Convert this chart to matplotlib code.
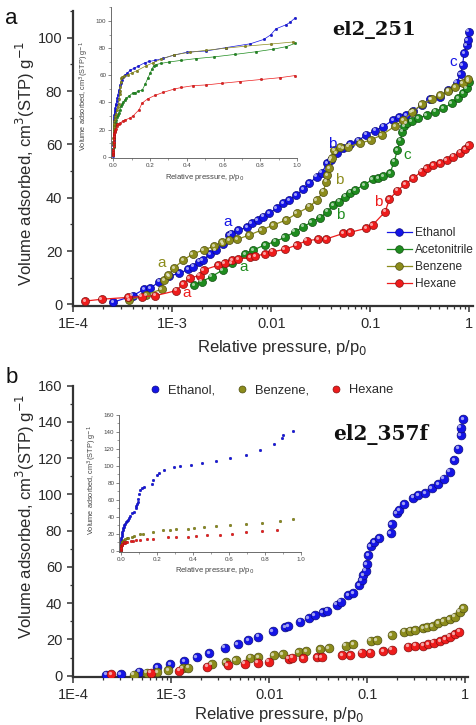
import numpy as np
import matplotlib
matplotlib.use("Agg")
import matplotlib.pyplot as plt
from matplotlib.lines import Line2D
from matplotlib.transforms import offset_copy
from matplotlib.ticker import FixedLocator, MultipleLocator, NullFormatter
import matplotlib.colors as mcolors

plt.rcParams['font.family'] = ['Liberation Sans', 'DejaVu Sans']

# ---------------- data: panel a (el2_251) ----------------
eth_a_p = [2.54e-4, 3.98e-4, 5.18e-4, 5.96e-4, 7.4e-4, 9.3e-4, 1.17e-3, 1.45e-3, 1.63e-3, 1.87e-3,
           2.03e-3, 2.40e-3, 2.74e-3, 3.27e-3, 3.77e-3, 3.92e-3, 4.64e-3, 5.73e-3, 6.34e-3, 7.29e-3,
           8.3e-3, 9.48e-3, 1.135e-2, 1.32e-2, 1.52e-2, 1.78e-2, 2.11e-2, 2.42e-2, 2.88e-2, 3.23e-2,
           3.68e-2, 3.98e-2, 4.58e-2, 5.34e-2, 6.24e-2, 7.57e-2, 9.06e-2, 0.112, 0.134, 0.171,
           0.196, 0.229, 0.272, 0.330, 0.401, 0.506, 0.614, 0.746, 0.819, 0.857, 0.885, 0.942, 0.964, 0.99]
eth_a_v = [0.8, 3.2, 5.6, 6.0, 8.5, 10.6, 11.6, 13.1, 14.1, 16.0,
           16.6, 18.8, 20.4, 22.6, 26.0, 26.5, 27.9, 28.9, 30.4, 31.6,
           32.9, 34.1, 36.0, 37.9, 39.1, 41.0, 43.2, 45.4, 47.9, 49.4,
           52.9, 54.1, 56.7, 58.5, 60.2, 61.4, 63.6, 65.1, 66.6, 69.2,
           70.2, 71.0, 72.5, 74.8, 77.0, 77.9, 80.4, 83.2, 86.4, 89.8, 94.2, 97.3, 99.2, 102.3]

acn_a_p = [1.67e-3, 1.98e-3, 2.50e-3, 3.23e-3, 3.98e-3, 5.43e-3, 6.58e-3, 8.64e-3, 1.09e-2, 1.37e-2,
           1.73e-2, 2.11e-2, 2.56e-2, 3.10e-2, 3.68e-2, 4.23e-2, 4.83e-2, 5.55e-2, 6.24e-2, 7.0e-2,
           8.63e-2, 0.106, 0.120, 0.135, 0.158, 0.174, 0.188, 0.200, 0.211, 0.219,
           0.233, 0.262, 0.305, 0.371, 0.451, 0.546, 0.664, 0.775, 0.870, 0.942, 0.99]
acn_a_v = [7.2, 8.5, 10.4, 12.9, 15.4, 18.9, 20.4, 22.3, 23.5, 25.1,
           27.2, 29.1, 30.9, 32.5, 34.7, 37.3, 38.5, 40.4, 41.9, 42.9,
           44.8, 46.9, 47.3, 48.1, 49.2, 53.5, 57.9, 61.4, 64.8, 66.9,
           67.9, 68.8, 69.8, 71.0, 72.3, 73.5, 75.4, 77.3, 79.2, 81.1, 83.5]

bz_a_p = [3.68e-4, 5.42e-4, 7.82e-4, 8.25e-4, 9.12e-4, 1.04e-3, 1.29e-3, 1.61e-3, 2.07e-3, 2.64e-3,
          3.18e-3, 3.77e-3, 4.54e-3, 6.0e-3, 8.0e-3, 1.05e-2, 1.41e-2, 1.81e-2, 2.42e-2, 2.88e-2,
          3.35e-2, 3.57e-2, 3.68e-2, 3.86e-2, 4.08e-2, 4.30e-2, 4.94e-2, 6.0e-2, 7.87e-2, 0.101,
          0.130, 0.178, 0.216, 0.262, 0.330, 0.417, 0.506, 0.614, 0.718, 0.857, 0.977]
bz_a_v = [1.6, 3.5, 5.7, 9.1, 11.0, 13.6, 16.6, 18.9, 20.4, 21.8,
          23.3, 24.1, 24.4, 26.0, 27.9, 29.8, 31.6, 34.1, 36.6, 39.1,
          42.3, 46.0, 48.5, 51.0, 54.8, 57.9, 58.9, 59.1, 60.4, 61.7,
          63.5, 66.9, 69.2, 72.0, 75.0, 77.0, 78.4, 80.0, 81.4, 83.0, 84.5]

hex_a_p = [1.31e-4, 1.94e-4, 3.6e-4, 4.91e-4, 6.68e-4, 1.09e-3, 1.28e-3, 1.50e-3, 1.89e-3, 2.08e-3,
           2.92e-3, 3.37e-3, 4.03e-3, 4.64e-3, 6.1e-3, 6.85e-3, 8.63e-3, 1.02e-2, 1.37e-2, 1.81e-2,
           2.28e-2, 2.99e-2, 3.57e-2, 5.34e-2, 6.24e-2, 9.06e-2, 0.106, 0.141, 0.156, 0.188,
           0.226, 0.272, 0.330, 0.371, 0.433, 0.506, 0.591, 0.689, 0.805, 0.906, 0.99]
hex_a_v = [1.2, 1.9, 2.6, 2.9, 3.2, 5.1, 7.6, 9.9, 10.8, 12.9,
           14.7, 15.5, 16.6, 17.0, 17.6, 18.1, 18.9, 19.7, 20.6, 22.3,
           23.9, 24.4, 24.5, 26.6, 27.0, 28.5, 29.8, 34.7, 39.4, 42.7,
           45.1, 47.4, 49.8, 51.0, 52.3, 52.9, 54.1, 55.4, 56.9, 58.2, 59.8]

# ---------------- data: panel b (el2_357f) ----------------
eth_b_p = [2.16e-4, 3.05e-4, 4.71e-4, 7.19e-4, 9.7e-4, 1.35e-3, 1.82e-3, 2.43e-3, 3.53e-3, 4.74e-3,
           6.11e-3, 7.73e-3, 1.09e-2, 1.45e-2, 1.56e-2, 2.06e-2, 2.54e-2, 2.92e-2, 3.53e-2, 3.91e-2,
           4.87e-2, 5.39e-2, 6.4e-2, 7.2e-2, 8.28e-2, 8.77e-2, 9.1e-2, 9.64e-2, 9.87e-2, 0.102,
           0.108, 0.118, 0.132, 0.173, 0.177, 0.200, 0.212, 0.239, 0.295, 0.331,
           0.388, 0.454, 0.530, 0.606, 0.698, 0.773, 0.849, 0.898, 0.904, 0.955]
eth_b_v = [0.4, 0.8, 2.2, 4.6, 6.3, 8.1, 10.3, 12.5, 15.3, 17.3,
           19.7, 21.5, 24.4, 26.7, 27.4, 29.8, 31.6, 33.4, 35.1, 35.8,
           39.1, 40.9, 44.5, 45.4, 50.0, 52.7, 55.5, 57.9, 61.5, 66.5,
           71.5, 73.6, 75.7, 78.5, 83.6, 89.5, 91.3, 94.6, 98.3, 99.6,
           100.8, 103.3, 105.5, 108.8, 112.4, 118.8, 125.3, 132.6, 136.9, 141.4]

bz_b_p = [4.16e-4, 5.61e-4, 7.19e-4, 9.31e-4, 1.31e-3, 1.49e-3, 2.58e-3, 3.59e-3, 4.57e-3, 6.43e-3,
          7.67e-3, 1.11e-2, 1.37e-2, 2.0e-2, 2.39e-2, 3.32e-2, 4.05e-2, 6.0e-2, 7.2e-2, 0.108,
          0.125, 0.177, 0.237, 0.273, 0.307, 0.373, 0.409, 0.464, 0.530, 0.606,
          0.698, 0.785, 0.883, 0.955]
bz_b_v = [0.4, 1.7, 1.9, 3.1, 4.1, 4.5, 6.3, 7.3, 8.4, 9.9,
          10.3, 11.4, 11.8, 12.9, 13.6, 14.6, 15.1, 16.6, 17.3, 19.3,
          19.7, 22.4, 24.2, 24.8, 25.2, 26.1, 26.7, 27.4, 28.9, 30.1,
          31.2, 32.5, 35.3, 37.1]

hex_b_p = [2.43e-4, 6.17e-4, 1.21e-3, 2.34e-3, 3.77e-3, 5.59e-3, 7.64e-3, 9.89e-3, 1.58e-2, 1.72e-2,
           2.22e-2, 3.07e-2, 3.43e-2, 5.52e-2, 6.67e-2, 8.77e-2, 0.107, 0.146, 0.177, 0.262,
           0.307, 0.373, 0.419, 0.479, 0.552, 0.621, 0.698, 0.785, 0.869]
hex_b_v = [0.8, 1.7, 2.8, 5.0, 5.7, 6.6, 7.2, 7.7, 9.4, 9.8,
           9.6, 10.2, 10.3, 11.4, 11.4, 12.7, 12.7, 13.6, 14.2, 16.0,
           16.4, 16.4, 17.3, 18.2, 19.1, 20.1, 21.5, 22.8, 24.2]

log_ticks = [1e-4, 1e-3, 1e-2, 1e-1, 1]
log_labels = ["1E-4", "1E-3", "0.01", "0.1", "1"]

C_ETH = "#1414e6"
C_ACN = "#1e8c1e"
C_BZ = "#8c8c1c"
C_HEX = "#ee1c1c"
TXT = "#2a2a2a"

W, H = 477, 725
fig = plt.figure(figsize=(W / 100, H / 100), dpi=100)


def px_axes(x0, y0, x1, y1):
    return fig.add_axes([x0 / W, 1 - y1 / H, (x1 - x0) / W, (y1 - y0) / H])


def darker(c, f=0.55):
    r, g, b = mcolors.to_rgb(c)
    return (r * f, g * f, b * f)


def balls(ax, x, y, color, ms, line=False, lw=0.9, hl=True):
    ax.plot(x, y, ls='-' if line else 'none', lw=lw, color=color, alpha=1,
            marker='o', ms=ms, mfc=color, mec=darker(color), mew=0.5, zorder=3)
    if hl:
        tr = offset_copy(ax.transData, fig=fig, x=-ms * 0.17, y=ms * 0.17, units='points')
        ax.plot(x, y, ls='none', marker='o', ms=ms * 0.38, mfc='white', mec='none',
                alpha=0.6, transform=tr, zorder=4)


def style_main(ax, xr, ytop, ybot, ymaj):
    ax.set_xscale('log')
    ax.set_xlim(1e-4, xr)
    ax.set_ylim(ybot, ytop)
    ax.xaxis.set_major_locator(FixedLocator(log_ticks))
    ax.set_xticklabels(log_labels)
    minors = [m * 10.0 ** e for e in range(-4, 0) for m in range(2, 10)]
    ax.xaxis.set_minor_locator(FixedLocator(minors))
    ax.xaxis.set_minor_formatter(NullFormatter())
    ax.yaxis.set_major_locator(MultipleLocator(ymaj))
    ax.yaxis.set_minor_locator(MultipleLocator(ymaj / 2))
    for s in ['top', 'right']:
        ax.spines[s].set_visible(False)
    for s in ['left', 'bottom']:
        ax.spines[s].set_linewidth(1.6)
        ax.spines[s].set_color('#333333')
    ax.tick_params(which='major', direction='out', length=4.5, width=1.1, labelsize=10.5,
                   colors='#333333', labelcolor=TXT)
    ax.tick_params(which='minor', direction='out', length=2.5, width=0.9, colors='#333333')
    ax.patch.set_alpha(0)


def style_inset(ax, xl, yl, ymaj):
    ax.set_xlim(*xl)
    ax.set_ylim(*yl)
    ax.xaxis.set_major_locator(MultipleLocator(0.2))
    ax.xaxis.set_minor_locator(MultipleLocator(0.1))
    ax.yaxis.set_major_locator(MultipleLocator(ymaj))
    ax.yaxis.set_minor_locator(MultipleLocator(ymaj / 2))
    ax.xaxis.set_major_formatter(matplotlib.ticker.FormatStrFormatter('%.1f'))
    for s in ['top', 'right']:
        ax.spines[s].set_visible(False)
    for s in ['left', 'bottom']:
        ax.spines[s].set_linewidth(0.6)
        ax.spines[s].set_color('#555555')
    ax.tick_params(which='major', direction='out', length=2, width=0.5, labelsize=4.5,
                   pad=1.5, colors='#555555', labelcolor='#444444')
    ax.tick_params(which='minor', direction='out', length=1.2, width=0.4, colors='#555555')
    ax.patch.set_alpha(0)


YLAB = "Volume adsorbed, cm$^3$(STP) g$^{-1}$"
XLAB = "Relative pressure, p/p$_0$"

# ======================= panel a =======================
axa = px_axes(73.3, 11.2, 473, 306)
style_main(axa, 1.09, 110, -0.64, 20)
for p, v, c in [(eth_a_p, eth_a_v, C_ETH), (acn_a_p, acn_a_v, C_ACN),
                (bz_a_p, bz_a_v, C_BZ), (hex_a_p, hex_a_v, C_HEX)]:
    balls(axa, p, v, c, 5.8, line=True, lw=0.9)
axa.set_xlabel(XLAB, fontsize=12, color=TXT)
axa.set_ylabel(YLAB, fontsize=12, color=TXT)
axa.xaxis.set_label_coords(0.522, -0.108)
axa.yaxis.set_label_coords(-0.091, 0.485)

# step labels
annot_a = [(3.63e-3, 31.0, 'a', C_ETH), (0.041, 60.2, 'b', C_ETH), (0.684, 90.9, 'c', C_ETH),
           (7.87e-4, 15.5, 'a', C_BZ), (0.0483, 46.6, 'b', C_BZ),
           (5.3e-3, 14.0, 'a', C_ACN), (0.0494, 33.5, 'b', C_ACN), (0.234, 56.0, 'c', C_ACN),
           (1.41e-3, 4.2, 'a', C_HEX), (0.12, 38.4, 'b', C_HEX)]
for x, y, t, c in annot_a:
    axa.text(x, y, t, color=c, fontsize=11, ha='center', va='center', zorder=6)

leg_a = [Line2D([], [], color=c, lw=0.9, marker='o', ms=5.5, mfc=c, mec=darker(c), mew=0.5)
         for c in [C_ETH, C_ACN, C_BZ, C_HEX]]
axa.legend(leg_a, ["Ethanol", "Acetonitrile", "Benzene", "Hexane"], loc='lower right',
           bbox_to_anchor=(1.02, 0.03), frameon=False, fontsize=8.6, handlelength=2.1,
           handletextpad=0.25, labelspacing=0.42, labelcolor=TXT, borderaxespad=0.2)

axa.text(0.752, 0.935, "el2_251", transform=axa.transAxes, fontsize=14, fontweight='bold',
         family='DejaVu Serif', ha='center', va='center', color='#111111')

fig.text(11 / W, 1 - 18 / H, "a", fontsize=16, ha='center', va='center', color='#111111')

# inset a
ina = px_axes(111, 7, 297, 158)
style_inset(ina, (-0.0125, 1.0), (-0.96, 110.3), 20)
for p, v, c in [(eth_a_p, eth_a_v, C_ETH), (acn_a_p, acn_a_v, C_ACN),
                (bz_a_p, bz_a_v, C_BZ), (hex_a_p, hex_a_v, C_HEX)]:
    ina.plot(p, v, color=c, lw=0.5, marker='o', ms=1.9, mfc=c, mec=darker(c), mew=0.2,
             clip_on=False)
ina.set_xlabel(XLAB, fontsize=5.5, color='#444444')
ina.set_ylabel(YLAB, fontsize=5.3, color='#444444')
ina.xaxis.set_label_coords(0.505, -0.093)
ina.yaxis.set_label_coords(-0.108, 0.41)

# ======================= panel b =======================
axb = px_axes(73.3, 385.7, 468, 677.3)
style_main(axb, 1.066, 160, -0.88, 20)
for p, v, c in [(eth_b_p, eth_b_v, C_ETH), (bz_b_p, bz_b_v, C_BZ), (hex_b_p, hex_b_v, C_HEX)]:
    balls(axb, p, v, c, 6.3)
axb.set_xlabel(XLAB, fontsize=12, color=TXT)
axb.set_ylabel(YLAB, fontsize=12, color=TXT)
axb.xaxis.set_label_coords(0.521, -0.095)
axb.yaxis.set_label_coords(-0.092, 0.553)

leg_b = [Line2D([], [], ls='none', marker='o', ms=5, mfc=c, mec=darker(c), mew=0.5)
         for c in [C_ETH, C_BZ, C_HEX]]
axb.legend(leg_b, ["Ethanol,", "Benzene,", "Hexane"], loc='upper center',
           bbox_to_anchor=(0.5, 1.045), ncol=3, frameon=False, fontsize=9.3,
           handlelength=1.0, handletextpad=0.5, columnspacing=1.6, labelcolor=TXT)

axb.text(0.778, 0.833, "el2_357f", transform=axb.transAxes, fontsize=14.5, fontweight='bold',
         family='DejaVu Serif', ha='center', va='center', color='#111111')

fig.text(12 / W, 1 - 378 / H, "b", fontsize=16, ha='center', va='center', color='#111111')

# inset b
inb = px_axes(119.3, 415, 300.7, 552)
style_inset(inb, (-0.0078, 1.0), (-1.5, 160), 20)
for p, v, c in [(eth_b_p, eth_b_v, C_ETH), (bz_b_p, bz_b_v, C_BZ), (hex_b_p, hex_b_v, C_HEX)]:
    inb.plot(p, v, ls='none', marker='o', ms=2.0, mfc=c, mec=darker(c), mew=0.2, clip_on=False)
inb.set_xlabel(XLAB, fontsize=5.5, color='#444444')
inb.set_ylabel(YLAB, fontsize=5.3, color='#444444')
inb.xaxis.set_label_coords(0.527, -0.095)
inb.yaxis.set_label_coords(-0.112, 0.525)

fig.savefig("out.png", dpi=100)
